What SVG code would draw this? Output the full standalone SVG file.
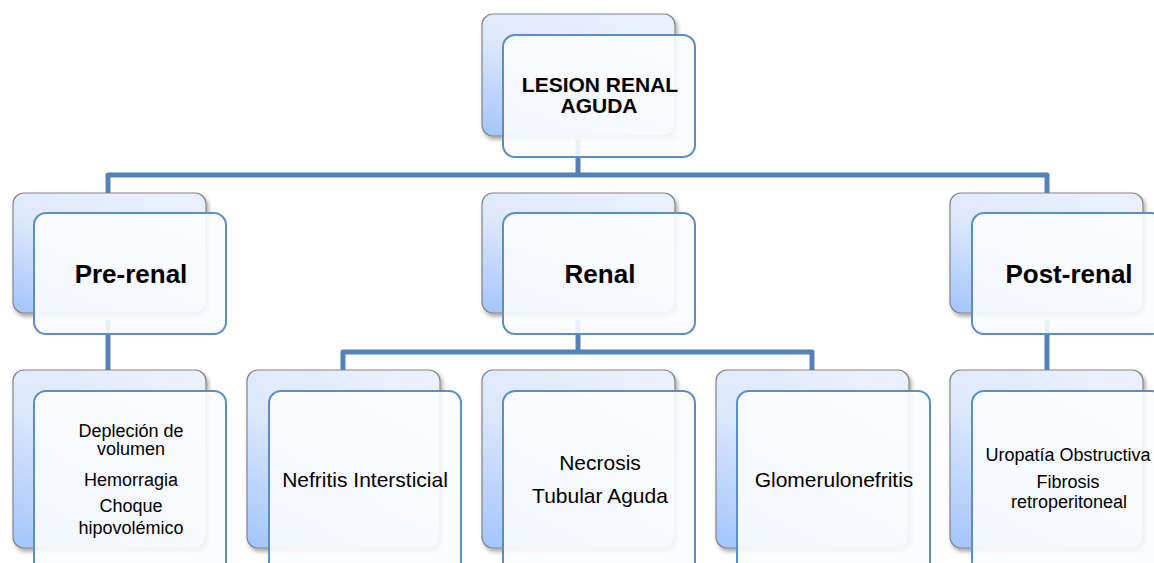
<svg xmlns="http://www.w3.org/2000/svg" width="1154" height="563" viewBox="0 0 1154 563">
<defs>
<linearGradient id="bg" x1="0.7" y1="0" x2="0.1" y2="1">
<stop offset="0" stop-color="#e9f0fc"/>
<stop offset="0.45" stop-color="#dde8fb"/>
<stop offset="1" stop-color="#a6c7fb"/>
</linearGradient>
<filter id="sh" x="-10%" y="-10%" width="125%" height="125%">
<feDropShadow dx="2" dy="3" stdDeviation="2" flood-color="#000" flood-opacity="0.35"/>
</filter>
<style>
.back{fill:url(#bg);stroke:#858585;stroke-width:1.2;filter:url(#sh)}
.front{fill:#fbfcfe;fill-opacity:0.9;stroke:#5b8dc6;stroke-width:2}
.conn{fill:none;stroke:#5581b8;stroke-width:5;stroke-linejoin:round}
text{font-family:"Liberation Sans",Arial,sans-serif;fill:#000;text-anchor:middle}
.b1{font-weight:bold;font-size:21px}
.b2{font-weight:bold;font-size:26px}
.t3{font-size:18px}
.t4{font-size:21px}
</style>
</defs>
<rect width="1154" height="563" fill="#fff"/>
<g id="connectors">
<path class="conn" d="M578,140 V175 M108,197 V175 H1047 V197"/>
<path class="conn" d="M108,320 V373 M1047,320 V373 M578,320 V352 M343,373 V352 H812 V373"/>
</g>
<g id="n-lesion">
<rect class="back" x="482" y="14" width="193" height="122" rx="11"/>
<rect class="front" x="503" y="35" width="192" height="122" rx="12"/>
<text class="b1" x="600" y="92">LESION RENAL</text>
<text class="b1" x="599" y="113">AGUDA</text>
</g>
<g id="n-prerenal">
<rect class="back" x="13" y="193" width="193" height="120" rx="11"/>
<rect class="front" x="34" y="213" width="192" height="121" rx="12"/>
<text class="b2" x="131" y="283">Pre-renal</text>
</g>
<g id="n-renal">
<rect class="back" x="482" y="193" width="193" height="120" rx="11"/>
<rect class="front" x="503" y="213" width="192" height="121" rx="12"/>
<text class="b2" x="600" y="283">Renal</text>
</g>
<g id="n-postrenal">
<rect class="back" x="950" y="193" width="193" height="120" rx="11"/>
<rect class="front" x="972" y="213" width="192" height="121" rx="12"/>
<text class="b2" x="1069" y="283">Post-renal</text>
</g>
<g id="n-deplecion">
<rect class="back" x="13" y="370" width="193" height="178" rx="11"/>
<rect class="front" x="34" y="391" width="192" height="185" rx="12"/>
<text class="t3" x="131" y="437">Depleción de</text>
<text class="t3" x="131" y="455">volumen</text>
<text class="t3" x="131" y="486">Hemorragia</text>
<text class="t3" x="131" y="512">Choque</text>
<text class="t3" x="131" y="534">hipovolémico</text>
</g>
<g id="n-nefritis">
<rect class="back" x="247" y="370" width="193" height="178" rx="11"/>
<rect class="front" x="269" y="391" width="192" height="185" rx="12"/>
<text class="t4" x="365" y="487">Nefritis Intersticial</text>
</g>
<g id="n-necrosis">
<rect class="back" x="482" y="370" width="193" height="178" rx="11"/>
<rect class="front" x="503" y="391" width="192" height="185" rx="12"/>
<text class="t4" x="600" y="470">Necrosis</text>
<text class="t4" x="600" y="503">Tubular Aguda</text>
</g>
<g id="n-glomerulo">
<rect class="back" x="716" y="370" width="193" height="178" rx="11"/>
<rect class="front" x="737" y="391" width="193" height="185" rx="12"/>
<text class="t4" x="834" y="487">Glomerulonefritis</text>
</g>
<g id="n-uropatia">
<rect class="back" x="950" y="370" width="193" height="178" rx="11"/>
<rect class="front" x="972" y="391" width="192" height="185" rx="12"/>
<text class="t3" x="1068" y="461">Uropatía Obstructiva</text>
<text class="t3" x="1068" y="488">Fibrosis</text>
<text class="t3" x="1069" y="508">retroperitoneal</text>
</g>
</svg>
